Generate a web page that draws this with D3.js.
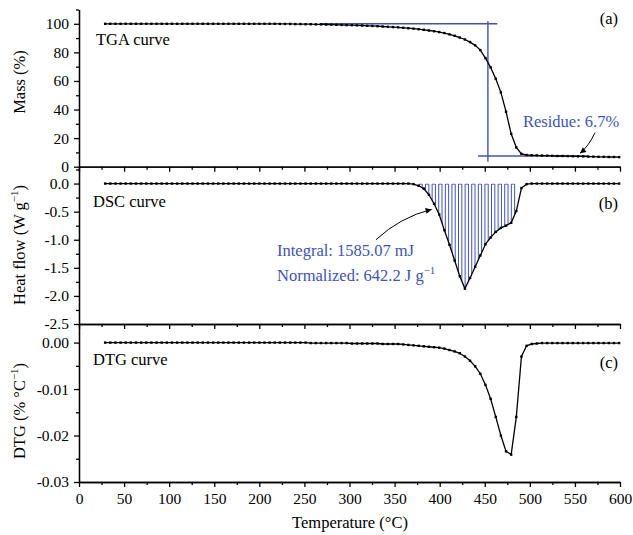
<!DOCTYPE html>
<html>
<head>
<meta charset="utf-8">
<script src="https://cdn.jsdelivr.net/npm/d3@7"></script>
<style>
  body { margin: 0; background: #fff; }
  text { font-family: "Liberation Serif", "Times New Roman", serif; }
</style>
</head>
<body>
<script>
var w = 633;
var h = 535;
var blue = "#4053b3";

// measurement temperatures (°C)
var temps = [29, 34.7, 40.4, 46.1, 51.8, 57.5, 63.2, 68.9, 74.6, 80.3,
    86, 91.7, 97.4, 103.1, 108.8, 114.5, 120.2, 125.9, 131.6, 137.3,
    143, 148.7, 154.4, 160.1, 165.8, 171.5, 177.2, 182.9, 188.6, 194.3,
    200, 205.7, 211.4, 217.1, 222.8, 228.5, 234.2, 239.9, 245.6, 251.3,
    257, 262.7, 268.4, 274.1, 279.8, 285.5, 291.2, 296.9, 302.6, 308.3,
    314, 319.7, 325.4, 331.1, 336.8, 342.5, 348.2, 353.9, 359.6, 365.3,
    371, 376.7, 382.4, 388.1, 393.8, 399.5, 405.2, 410.9, 416.6, 422.3,
    428, 433.7, 439.4, 445.1, 450.8, 456.5, 462.2, 467.9, 473.6, 479.3,
    485, 490.7, 496.4, 502.1, 507.8, 513.5, 519.2, 524.9, 530.6, 536.3,
    542, 547.7, 553.4, 559.1, 564.8, 570.5, 576.2, 581.9, 587.6, 593.3, 599];

// TGA mass (%)
var massPct = [100, 100, 100, 100, 100, 100, 100, 100, 100, 100,
    100, 100, 100, 100, 100, 100, 100, 100, 100, 100,
    100, 100, 100, 100, 100, 100, 100, 100, 100, 100,
    100, 100, 100, 100, 99.9, 99.9, 99.9, 99.8, 99.8, 99.7,
    99.7, 99.6, 99.6, 99.5, 99.4, 99.3, 99.2, 99.1, 99.0, 98.9,
    98.8, 98.6, 98.5, 98.3, 98.1, 97.9, 97.7, 97.5, 97.2, 96.9,
    96.6, 96.2, 95.8, 95.3, 94.8, 94.2, 93.5, 92.6, 91.6, 90.4,
    89.0, 87.2, 84.9, 81.6, 76.0, 69.5, 61.5, 52.0, 38.5, 23.0,
    13.5, 9.0, 8.2, 8.0, 7.9, 7.8, 7.7, 7.6, 7.5, 7.5,
    7.4, 7.3, 7.2, 7.2, 7.1, 7.0, 6.9, 6.9, 6.8, 6.8, 6.7];

// DSC heat flow (W/g)
var heatFlow = [0, 0, 0, 0, 0, 0, 0, 0, 0, 0,
    0, 0, 0, 0, 0, 0, 0, 0, 0, 0,
    0, 0, 0, 0, 0, 0, 0, 0, 0, 0,
    0, 0, 0, 0, 0, 0, 0, 0, 0, 0,
    0, 0, 0, 0, 0, 0, 0, 0, 0, 0,
    0, 0, 0, 0, 0, 0, 0, 0, 0, 0,
    -0.01, -0.04, -0.09, -0.20, -0.36, -0.55, -0.83, -1.09, -1.37, -1.65,
    -1.87, -1.68, -1.48, -1.28, -1.08, -0.96, -0.86, -0.79, -0.75, -0.70,
    -0.49, -0.08, -0.01, 0, 0, 0, 0, 0, 0, 0,
    0, 0, 0, 0, 0, 0, 0, 0, 0, 0, 0];

// DTG (% / °C)
var dtg = [0, 0, 0, 0, 0, 0, 0, 0, 0, 0,
    0, 0, 0, 0, 0, 0, 0, 0, 0, 0,
    0, 0, 0, 0, 0, 0, 0, 0, 0, 0,
    0, 0, 0, 0, 0, 0, 0, 0, 0, 0,
    -0.0001, -0.0001, -0.0001, -0.0001, -0.0001, -0.0001, -0.0001, -0.0001, -0.0002, -0.0002,
    -0.0002, -0.0002, -0.0002, -0.0002, -0.0003, -0.0003, -0.0003, -0.0003, -0.0004, -0.0005,
    -0.0006, -0.0007, -0.0008, -0.0009, -0.0010, -0.0011, -0.0013, -0.0016, -0.0019, -0.0023,
    -0.0030, -0.0039, -0.0051, -0.0067, -0.0091, -0.0121, -0.0160, -0.0200, -0.0234, -0.0241,
    -0.0160, -0.0030, -0.0007, -0.0003, -0.0002, -0.0001, -0.0001, -0.0001, -0.0001, -0.0001,
    -0.0001, -0.0001, -0.0001, -0.0001, -0.0001, -0.0001, -0.0001, -0.0001, -0.0001, -0.0001, -0.0001];

// ticks
var tempTicks = [0, 50, 100, 150, 200, 250, 300, 350, 400, 450, 500, 550, 600];
var tempMinor = [25, 75, 125, 175, 225, 275, 325, 375, 425, 475, 525, 575];
var massTicks = [0, 20, 40, 60, 80, 100];
var massMinor = [10, 30, 50, 70, 90, 110];
var heatTicks = [-2.5, -2.0, -1.5, -1.0, -0.5, 0.0];
var heatMinor = [-2.25, -1.75, -1.25, -0.75, -0.25, 0.25];
var dtgTicks = [-0.03, -0.02, -0.01, 0];
var dtgMinor = [-0.025, -0.015, -0.005];

// TGA construction lines (temperature, mass)
var startLine = [[267, 100], [464, 100]];
var onsetLine = [[453.5, 101.7], [453.5, 3.4]];
var endLine = [[442.5, 7.5], [565, 7.5]];
// DSC integration limits (°C)
var integLimits = [377, 489];

var xScale = d3.scaleLinear().domain([0, 600]).range([79, 620]);
var yMass = d3.scaleLinear().domain([0, 110]).range([166.7, 9.5]);
var yHeat = d3.scaleLinear().domain([-2.5, 0.3]).range([324, 166.7]);
var yDtg = d3.scaleLinear().domain([-0.03, 0.004]).range([482, 324]);

var svg = d3.select("body")
    .append("svg")
    .attr("width", w)
    .attr("height", h);

var defs = svg.append("defs");
defs.append("marker")
    .attr("id", "arr")
    .attr("viewBox", "0 0 10 10")
    .attr("refX", 10)
    .attr("refY", 5)
    .attr("markerWidth", 8)
    .attr("markerHeight", 6)
    .attr("markerUnits", "userSpaceOnUse")
    .attr("orient", "auto")
    .append("path")
    .attr("d", "M0,0 L10,5 L0,10 z")
    .attr("fill", "#000");

// DSC hatch, clipped to the area between baseline and curve
var heatRows = temps.map(function(t, i) { return [t, heatFlow[i]]; });
defs.append("clipPath")
    .attr("id", "dscClip")
    .append("path")
    .attr("d", d3.area()
        .x(function(d) { return xScale(d[0]); })
        .y0(yHeat(0))
        .y1(function(d) { return yHeat(d[1]); })(heatRows));

var hx0 = xScale(integLimits[0]), hx1 = xScale(integLimits[1]);
var hy0 = yHeat(0) + 0.5, hyB = yHeat(-2.5);
var hatch = "";
for (var k = 0, xx = hx0; xx + 3.3 <= hx1 + 0.1; k += 2, xx += 6.6) {
    hatch += "M" + xx + "," + hyB + "L" + xx + "," + hy0 +
        "L" + (xx + 3.3) + "," + hy0 + "L" + (xx + 3.3) + "," + hyB;
}
svg.append("path")
    .attr("d", hatch)
    .attr("clip-path", "url(#dscClip)")
    .attr("fill", "none")
    .attr("stroke", blue)
    .attr("stroke-width", 1);

// TGA construction lines
[startLine, onsetLine, endLine].forEach(function(seg) {
    svg.append("line")
        .attr("x1", xScale(seg[0][0])).attr("y1", yMass(seg[0][1]))
        .attr("x2", xScale(seg[1][0])).attr("y2", yMass(seg[1][1]))
        .attr("stroke", blue)
        .attr("stroke-width", 1.4);
});

// curves with point markers
function drawCurve(vals, y) {
    var rows = temps.map(function(t, i) { return [t, vals[i]]; });
    svg.append("path")
        .datum(rows)
        .attr("d", d3.line()
            .x(function(d) { return xScale(d[0]); })
            .y(function(d) { return y(d[1]); }))
        .attr("fill", "none")
        .attr("stroke", "#000")
        .attr("stroke-width", 1.3);
    svg.append("g").selectAll("rect")
        .data(rows)
        .enter()
        .append("rect")
        .attr("x", function(d) { return xScale(d[0]) - 1.2; })
        .attr("y", function(d) { return y(d[1]) - 1.2; })
        .attr("width", 2.4)
        .attr("height", 2.4)
        .attr("fill", "#000");
}
drawCurve(massPct, yMass);
drawCurve(heatFlow, yHeat);
drawCurve(dtg, yDtg);

// axes
function styleAxis(g) {
    g.selectAll("path, line").attr("stroke", "#000").attr("stroke-width", 1.3);
    g.selectAll("text")
        .attr("fill", "#000")
        .style("font-size", "15.5px")
        .style("font-family", "'Liberation Serif', 'Times New Roman', serif");
}

function drawPanel(y, majors, minors, fmt, showX) {
    var bottom = y.range()[0];
    svg.append("g")
        .attr("transform", "translate(0," + bottom + ")")
        .call(d3.axisBottom(xScale).tickValues(tempMinor).tickSize(3).tickSizeOuter(0).tickFormat(""))
        .call(styleAxis);
    svg.append("g")
        .attr("transform", "translate(0," + bottom + ")")
        .call(d3.axisBottom(xScale).tickValues(tempTicks).tickSize(5).tickSizeOuter(0)
            .tickPadding(6)
            .tickFormat(showX ? d3.format("d") : ""))
        .call(styleAxis);
    svg.append("g")
        .attr("transform", "translate(" + xScale(0) + ",0)")
        .call(d3.axisLeft(y).tickValues(minors).tickSize(3).tickSizeOuter(0).tickFormat(""))
        .call(styleAxis);
    svg.append("g")
        .attr("transform", "translate(" + xScale(0) + ",0)")
        .call(d3.axisLeft(y).tickValues(majors).tickSize(5).tickSizeOuter(0).tickPadding(5)
            .tickFormat(fmt))
        .call(styleAxis);
}
drawPanel(yMass, massTicks, massMinor, function(d) { return d; }, false);
drawPanel(yHeat, heatTicks, heatMinor, function(d) { return d.toFixed(1); }, false);
drawPanel(yDtg, dtgTicks, dtgMinor, function(d) { return d.toFixed(2); }, true);

// labels
function label(x, y, str, opts) {
    opts = opts || {};
    return svg.append("text")
        .attr("x", x)
        .attr("y", y)
        .attr("text-anchor", opts.anchor || "start")
        .attr("fill", opts.color || "#000")
        .style("font-size", (opts.size || 16.5) + "px")
        .text(str);
}
label(96, 45, "TGA curve");
label(93, 207, "DSC curve");
label(93, 365, "DTG curve");
label(618, 24, "(a)", { anchor: "end" });
label(618, 209, "(b)", { anchor: "end" });
label(618, 368, "(c)", { anchor: "end" });

label(523, 127, "Residue: 6.7%", { color: blue });
label(277, 256, "Integral: 1585.07 mJ", { color: blue });
var norm = label(277, 281, "Normalized: 642.2 J g", { color: blue });
norm.append("tspan").attr("dy", -7).style("font-size", "11px").text("\u22121");

// annotation arrows (temperature, value)
var residueArrow = [[572.3, 23.8], [565, 14.1], [555.6, 9.4]];
var dscArrow = [[329.4, -1.0], [356, -0.6], [391.1, -0.46]];
svg.append("path")
    .attr("d", "M" + xScale(residueArrow[0][0]) + "," + yMass(residueArrow[0][1]) +
        "Q" + xScale(residueArrow[1][0]) + "," + yMass(residueArrow[1][1]) +
        " " + xScale(residueArrow[2][0]) + "," + yMass(residueArrow[2][1]))
    .attr("fill", "none")
    .attr("stroke", "#000")
    .attr("stroke-width", 1)
    .attr("marker-end", "url(#arr)");
svg.append("path")
    .attr("d", "M" + xScale(dscArrow[0][0]) + "," + yHeat(dscArrow[0][1]) +
        "Q" + xScale(dscArrow[1][0]) + "," + yHeat(dscArrow[1][1]) +
        " " + xScale(dscArrow[2][0]) + "," + yHeat(dscArrow[2][1]))
    .attr("fill", "none")
    .attr("stroke", "#000")
    .attr("stroke-width", 1)
    .attr("marker-end", "url(#arr)");

// axis titles
label(350, 528, "Temperature (\u00B0C)", { anchor: "middle", size: 16.5 });

svg.append("text")
    .attr("transform", "translate(25,82) rotate(-90)")
    .attr("text-anchor", "middle")
    .style("font-size", "16.5px")
    .text("Mass (%)");

var heatTitle = svg.append("text")
    .attr("transform", "translate(25,245) rotate(-90)")
    .attr("text-anchor", "middle")
    .style("font-size", "16.5px");
heatTitle.append("tspan").text("Heat flow (W g");
heatTitle.append("tspan").attr("dy", -7).style("font-size", "11px").text("\u22121");
heatTitle.append("tspan").attr("dy", 7).text(")");

var dtgTitle = svg.append("text")
    .attr("transform", "translate(25,411) rotate(-90)")
    .attr("text-anchor", "middle")
    .style("font-size", "16.5px");
dtgTitle.append("tspan").text("DTG (% \u00B0C");
dtgTitle.append("tspan").attr("dy", -7).style("font-size", "11px").text("\u22121");
dtgTitle.append("tspan").attr("dy", 7).text(")");
</script>
</body>
</html>
